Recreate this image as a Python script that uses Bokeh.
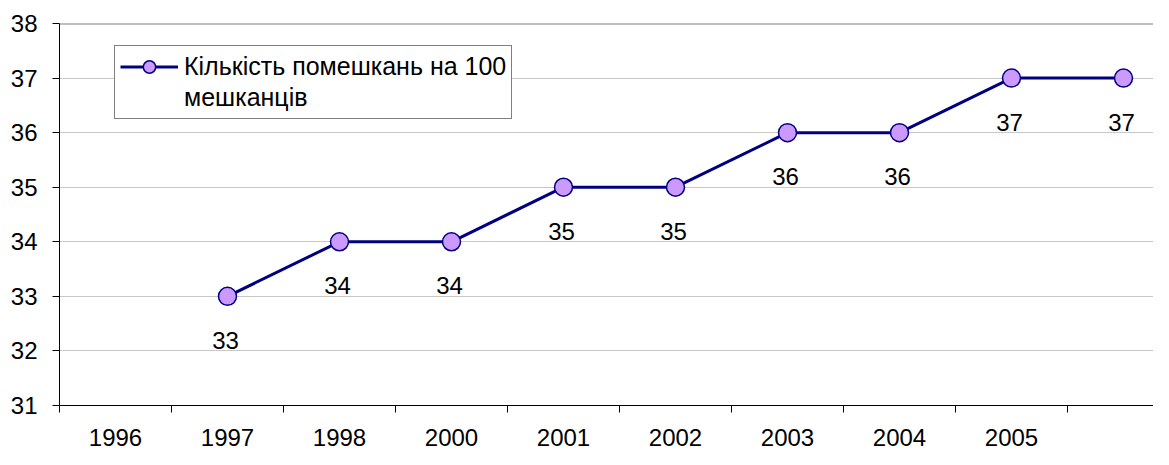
from bokeh.plotting import figure
from bokeh.models import (ColumnDataSource, Range1d, FixedTicker, Span, Legend, LegendItem)
from bokeh.embed import file_html
from bokeh.resources import INLINE

# ---- data ----
categories = ["1996", "1997", "1998", "2000", "2001", "2002", "2003", "2004", "2005", ""]
values = [None, 33, 34, 34, 35, 35, 36, 36, 37, 37]
legend_line1 = "Кількість помешкань на 100"
legend_line2 = "мешканців"
y_ticks = [31, 32, 33, 34, 35, 36, 37, 38]

FONT = "Liberation Sans"
FS = "24px"

xs = [i for i, v in enumerate(values) if v is not None]
ys = [v for v in values if v is not None]
src = ColumnDataSource(dict(x=xs, y=ys, lbl=[str(v) for v in ys]))

W, H = 1153, 449
LEFT, TOP, BOTTOM = 59, 23, 44
STEP = 112.0
n = len(categories)
p = figure(width=W, height=H, output_backend="svg", toolbar_location=None,
           x_range=Range1d(-0.5, -0.5 + (W - LEFT) / STEP),
           y_range=Range1d(min(y_ticks), max(y_ticks)),
           min_border_left=LEFT, min_border_right=0, min_border_top=TOP,
           min_border_bottom=BOTTOM)
p.outline_line_color = None
p.background_fill_color = "white"
p.border_fill_color = "white"

# axes
xa = p.xaxis[0]
xa.ticker = FixedTicker(ticks=list(range(n)), minor_ticks=[i - 0.5 for i in range(n + 1)])
xa.major_label_overrides = {i: c for i, c in enumerate(categories)}
xa.major_tick_line_color = None
xa.major_tick_out = 6
xa.minor_tick_in = 0
xa.minor_tick_out = 7
xa.minor_tick_line_color = "black"
xa.axis_line_color = "black"
xa.major_label_text_font = FONT
xa.major_label_text_font_size = FS
xa.major_label_text_color = "black"
xa.major_label_standoff = 16

ya = p.yaxis[0]
ya.ticker = FixedTicker(ticks=y_ticks)
ya.major_tick_in = 0
ya.major_tick_out = 7
ya.minor_tick_line_color = None
ya.axis_line_color = "black"
ya.major_label_text_font = FONT
ya.major_label_text_font_size = FS
ya.major_label_text_color = "black"
ya.major_label_standoff = 15

p.xgrid.grid_line_color = None
p.ygrid.ticker = FixedTicker(ticks=y_ticks[1:-1])
p.ygrid.grid_line_color = "#c8c8c8"
p.ygrid.grid_line_width = 1

p.add_layout(Span(location=max(y_ticks), dimension="width", line_color="#808080", line_width=2))

r_line = p.line("x", "y", source=src, line_color="#000080", line_width=3)
r_pts = p.scatter("x", "y", source=src, size=18, fill_color="#CC99FF",
                  line_color="#000080", line_width=1.5)
p.text("x", "y", text="lbl", source=src, x_offset=-2, y_offset=44,
       text_align="center", text_baseline="middle", text_font_size=FS,
       text_font={"value": FONT}, text_color="black")

# invisible renderer so that the second legend row shows text only
r_blank = p.line(x=[], y=[], line_alpha=0)

GH = 31
pad = 5
legend = Legend(items=[LegendItem(label=legend_line1, renderers=[r_line, r_pts]),
                       LegendItem(label=legend_line2, renderers=[r_blank])])
frame_h = H - TOP - BOTTOM
leg_h = pad * 2 + GH * 2
legend.location = (55, frame_h - 24 - leg_h)
legend.border_line_color = "black"
legend.border_line_width = 1
legend.background_fill_alpha = 1
legend.label_text_font = FONT
legend.label_text_font_size = "25px"
legend.label_text_color = "black"
legend.glyph_width = 58
legend.glyph_height = GH
legend.label_height = GH
legend.padding = pad
legend.label_standoff = 6
legend.spacing = 0
legend.margin = 0
p.add_layout(legend)

open("out.html", "w").write(file_html(p, INLINE))
